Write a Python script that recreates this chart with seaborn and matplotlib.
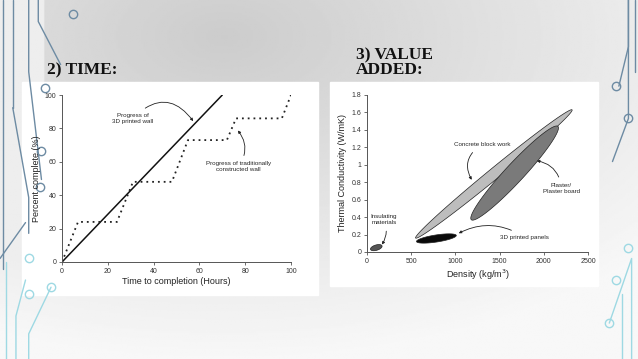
import numpy as np
import pandas as pd
import matplotlib.pyplot as plt
import seaborn as sns

# slide with two charts: time to build and thermal value of 3D printed walls

sns.set_style("ticks")
plt.rcParams['font.family'] = ['Liberation Sans', 'DejaVu Sans']

# --- left chart data (percent complete vs hours)
printed_hours = [0, 70]
printed_pct = [0, 100]
trad_hours = [0, 7, 24, 31, 48, 55, 72, 76, 96, 100]
trad_pct = [0, 24, 24, 48, 48, 73, 73, 86, 86, 100]

# --- right chart data (density vs thermal conductivity), each region is a long ellipse
region_names = ['Concrete block work', 'Plaster board', '3D printed panels', 'Insulating materials']
region_start_x = [550, 1180, 560, 40]
region_start_y = [0.16, 0.37, 0.12, 0.03]
region_end_x = [2320, 2160, 1010, 170]
region_end_y = [1.63, 1.44, 0.19, 0.07]
region_halfwidth = [0.025, 0.042, 0.016, 0.012]   # in axes fraction
region_colors = ['#bdbdbd', '#7a7a7a', '#0a0a0a', '#555555']

fig = plt.figure(figsize=(6.38, 3.59), dpi=100)

# background gradient (data coords of bg: x 0..1 left->right, y 0..1 top->bottom)
bg = fig.add_axes([0, 0, 1, 1])
yy, xx = np.mgrid[0:1:200j, 0:1:360j]
shade = 0.80 + 0.17 * np.clip(np.sqrt(((xx - 0.35) / 0.9) ** 2 + ((yy - 0.1) / 0.9) ** 2), 0, 1)
shade[:, :25] = np.maximum(shade[:, :25], 0.93)
bg.imshow(shade, cmap='gray', vmin=0, vmax=1, extent=[0, 1, 1, 0], aspect='auto')
bg.set_xlim(0, 1)
bg.set_ylim(1, 0)
bg.axis('off')

# circuit decorations on the edges
line_kw = dict(color='#6d8ba3', lw=1.0)
cyan_kw = dict(color='#9ed9e3', lw=1.0)
bg.plot([0.005, 0.005], [0, 0.75], **line_kw)
bg.plot([0.02, 0.02], [0, 0.3], **line_kw)
bg.plot([0.02, 0.045, 0.045], [0.3, 0.55, 0.65], **line_kw)
bg.plot([0.06, 0.06, 0.095], [0, 0.06, 0.18], **line_kw)
bg.plot([0.045, 0.045, 0.065], [0, 0.2, 0.5], **line_kw)
bg.plot([0.0, 0.04], [0.72, 0.62], **line_kw)
bg.plot([0.01, 0.01], [0.73, 1.0], **cyan_kw)
bg.plot([0.025, 0.025, 0.04], [1.0, 0.88, 0.78], **cyan_kw)
bg.plot([0.045, 0.045, 0.08], [1.0, 0.93, 0.8], **cyan_kw)
bg.plot([0.985, 0.985, 0.96], [0, 0.33, 0.45], **line_kw)
bg.plot([0.995, 0.995], [0, 0.2], **line_kw)
bg.plot([0.97, 0.985, 0.985], [0.24, 0.13, 0.0], **line_kw)
bg.plot([0.99, 0.99, 0.955], [1.0, 0.72, 0.9], **cyan_kw)
bg.plot([0.975, 0.975], [1.0, 0.82], **cyan_kw)
for cx, cy, c in [(0.07, 0.245, '#6d8ba3'), (0.115, 0.04, '#6d8ba3'),
                  (0.065, 0.42, '#6d8ba3'), (0.063, 0.52, '#6d8ba3'),
                  (0.045, 0.72, '#9ed9e3'), (0.045, 0.82, '#9ed9e3'), (0.08, 0.8, '#9ed9e3'),
                  (0.966, 0.24, '#6d8ba3'), (0.985, 0.33, '#6d8ba3'), (0.965, 0.78, '#9ed9e3'),
                  (0.955, 0.9, '#9ed9e3'), (0.985, 0.69, '#9ed9e3')]:
    bg.plot(cx, cy, 'o', mfc='none', mec=c, ms=6, mew=1.0)

# white panels behind the charts
bg.add_patch(plt.Rectangle((22 / 638, 82 / 359), 296 / 638, 213 / 359, color='white'))
bg.add_patch(plt.Rectangle((330 / 638, 82 / 359), 268 / 638, 204 / 359, color='white'))

# slide headings
fig.text(47 / 638, 1 - 74 / 359, '2) TIME:', family='Liberation Serif', weight='bold', fontsize=12.5, color='#111111')
fig.text(356 / 638, 1 - 74 / 359, '3) VALUE\nADDED:', family='Liberation Serif', weight='bold', fontsize=12.5,
         color='#111111', linespacing=0.85)

# ---------- left chart
ax1 = fig.add_axes([62 / 638, 1 - 262 / 359, 229 / 638, 167 / 359])
df_printed = pd.DataFrame({'hours': printed_hours, 'pct': printed_pct})
df_trad = pd.DataFrame({'hours': trad_hours, 'pct': trad_pct})
sns.lineplot(data=df_printed, x='hours', y='pct', ax=ax1, color='#111111', lw=1.1)
sns.lineplot(data=df_trad, x='hours', y='pct', ax=ax1, color='#222222', lw=1.3, linestyle=(0, (1, 2.2)))
ax1.set_xlim(0, 100)
ax1.set_ylim(0, 100)
ax1.set_xticks(range(0, 101, 20))
ax1.set_yticks(range(0, 101, 20))
ax1.set_facecolor('white')
sns.despine(ax=ax1)
for s in ['left', 'bottom']:
    ax1.spines[s].set_color('#555555')
    ax1.spines[s].set_linewidth(0.7)
ax1.tick_params(labelsize=5, length=2, width=0.6, colors='#555555', labelcolor='#333333', pad=2)
ax1.set_xlabel('Time to completion (Hours)', fontsize=6.5, color='#222222', labelpad=2)
ax1.set_ylabel('Percent complete (%)', fontsize=6.5, color='#222222', labelpad=3)

arrow_kw = dict(arrowstyle='-|>', color='#222222', lw=0.6, mutation_scale=4)
ax1.annotate('Progress of\n3D printed wall', xy=(58, 83), xytext=(31, 86), fontsize=4.5, ha='center', va='center',
             arrowprops=dict(connectionstyle='arc3,rad=-0.6', **arrow_kw))
ax1.annotate('Progress of traditionally\nconstructed wall', xy=(76, 80), xytext=(77, 57), fontsize=4.5,
             ha='center', va='center',
             arrowprops=dict(connectionstyle='arc3,rad=0.4', **arrow_kw))

# ---------- right chart
ax2 = fig.add_axes([367 / 638, 1 - 252 / 359, 221 / 638, 157 / 359])
ax2.set_xlim(0, 2500)
ax2.set_ylim(0, 1.8)
bbox = ax2.get_position()
w_in = bbox.width * fig.get_figwidth()
h_in = bbox.height * fig.get_figheight()
t = np.linspace(0, 2 * np.pi, 200)
for x0, y0, x1, y1, hw, col in zip(region_start_x, region_start_y, region_end_x, region_end_y,
                                   region_halfwidth, region_colors):
    # work in inches so the ellipse looks right on screen
    p0 = np.array([x0 / 2500 * w_in, y0 / 1.8 * h_in])
    p1 = np.array([x1 / 2500 * w_in, y1 / 1.8 * h_in])
    c = (p0 + p1) / 2
    d = p1 - p0
    a = np.linalg.norm(d) / 2
    u = d / np.linalg.norm(d)
    n = np.array([-u[1], u[0]])
    b = hw * w_in
    pts = c[None, :] + np.outer(a * np.cos(t), u) + np.outer(b * np.sin(t), n)
    ax2.fill(pts[:, 0] / w_in * 2500, pts[:, 1] / h_in * 1.8, facecolor=col, edgecolor='#222222', lw=0.5)

ax2.set_xticks(range(0, 2501, 500))
ax2.set_yticks([0, 0.2, 0.4, 0.6, 0.8, 1.0, 1.2, 1.4, 1.6, 1.8])
ax2.set_yticklabels(['0', '0.2', '0.4', '0.6', '0.8', '1', '1.2', '1.4', '1.6', '1.8'])
sns.despine(ax=ax2)
for s in ['left', 'bottom']:
    ax2.spines[s].set_color('#555555')
    ax2.spines[s].set_linewidth(0.7)
ax2.tick_params(labelsize=5, length=2, width=0.6, colors='#555555', labelcolor='#333333', pad=2)
ax2.set_xlabel('Density (kg/m$^3$)', fontsize=6.5, color='#222222', labelpad=2)
ax2.set_ylabel('Thermal Conductivity (W/mK)', fontsize=6.5, color='#222222', labelpad=3)

ax2.annotate('Concrete block work', xy=(1200, 0.8), xytext=(1300, 1.23), fontsize=4.5, ha='center', va='center',
             arrowprops=dict(connectionstyle='arc3,rad=0.5', **arrow_kw))
ax2.annotate('Plaster/\nPlaster board', xy=(1890, 1.05), xytext=(2200, 0.73), fontsize=4.5, ha='center',
             va='center', arrowprops=dict(connectionstyle='arc3,rad=0.4', **arrow_kw))
ax2.annotate('Insulating\nmaterials', xy=(150, 0.06), xytext=(190, 0.37), fontsize=4.5, ha='center',
             va='center', arrowprops=dict(connectionstyle='arc3,rad=-0.3', **arrow_kw))
ax2.annotate('3D printed panels', xy=(1010, 0.2), xytext=(1780, 0.17), fontsize=4.5, ha='center', va='center',
             arrowprops=dict(connectionstyle='arc3,rad=0.3', **arrow_kw))

fig.savefig('out.png', dpi=100)
